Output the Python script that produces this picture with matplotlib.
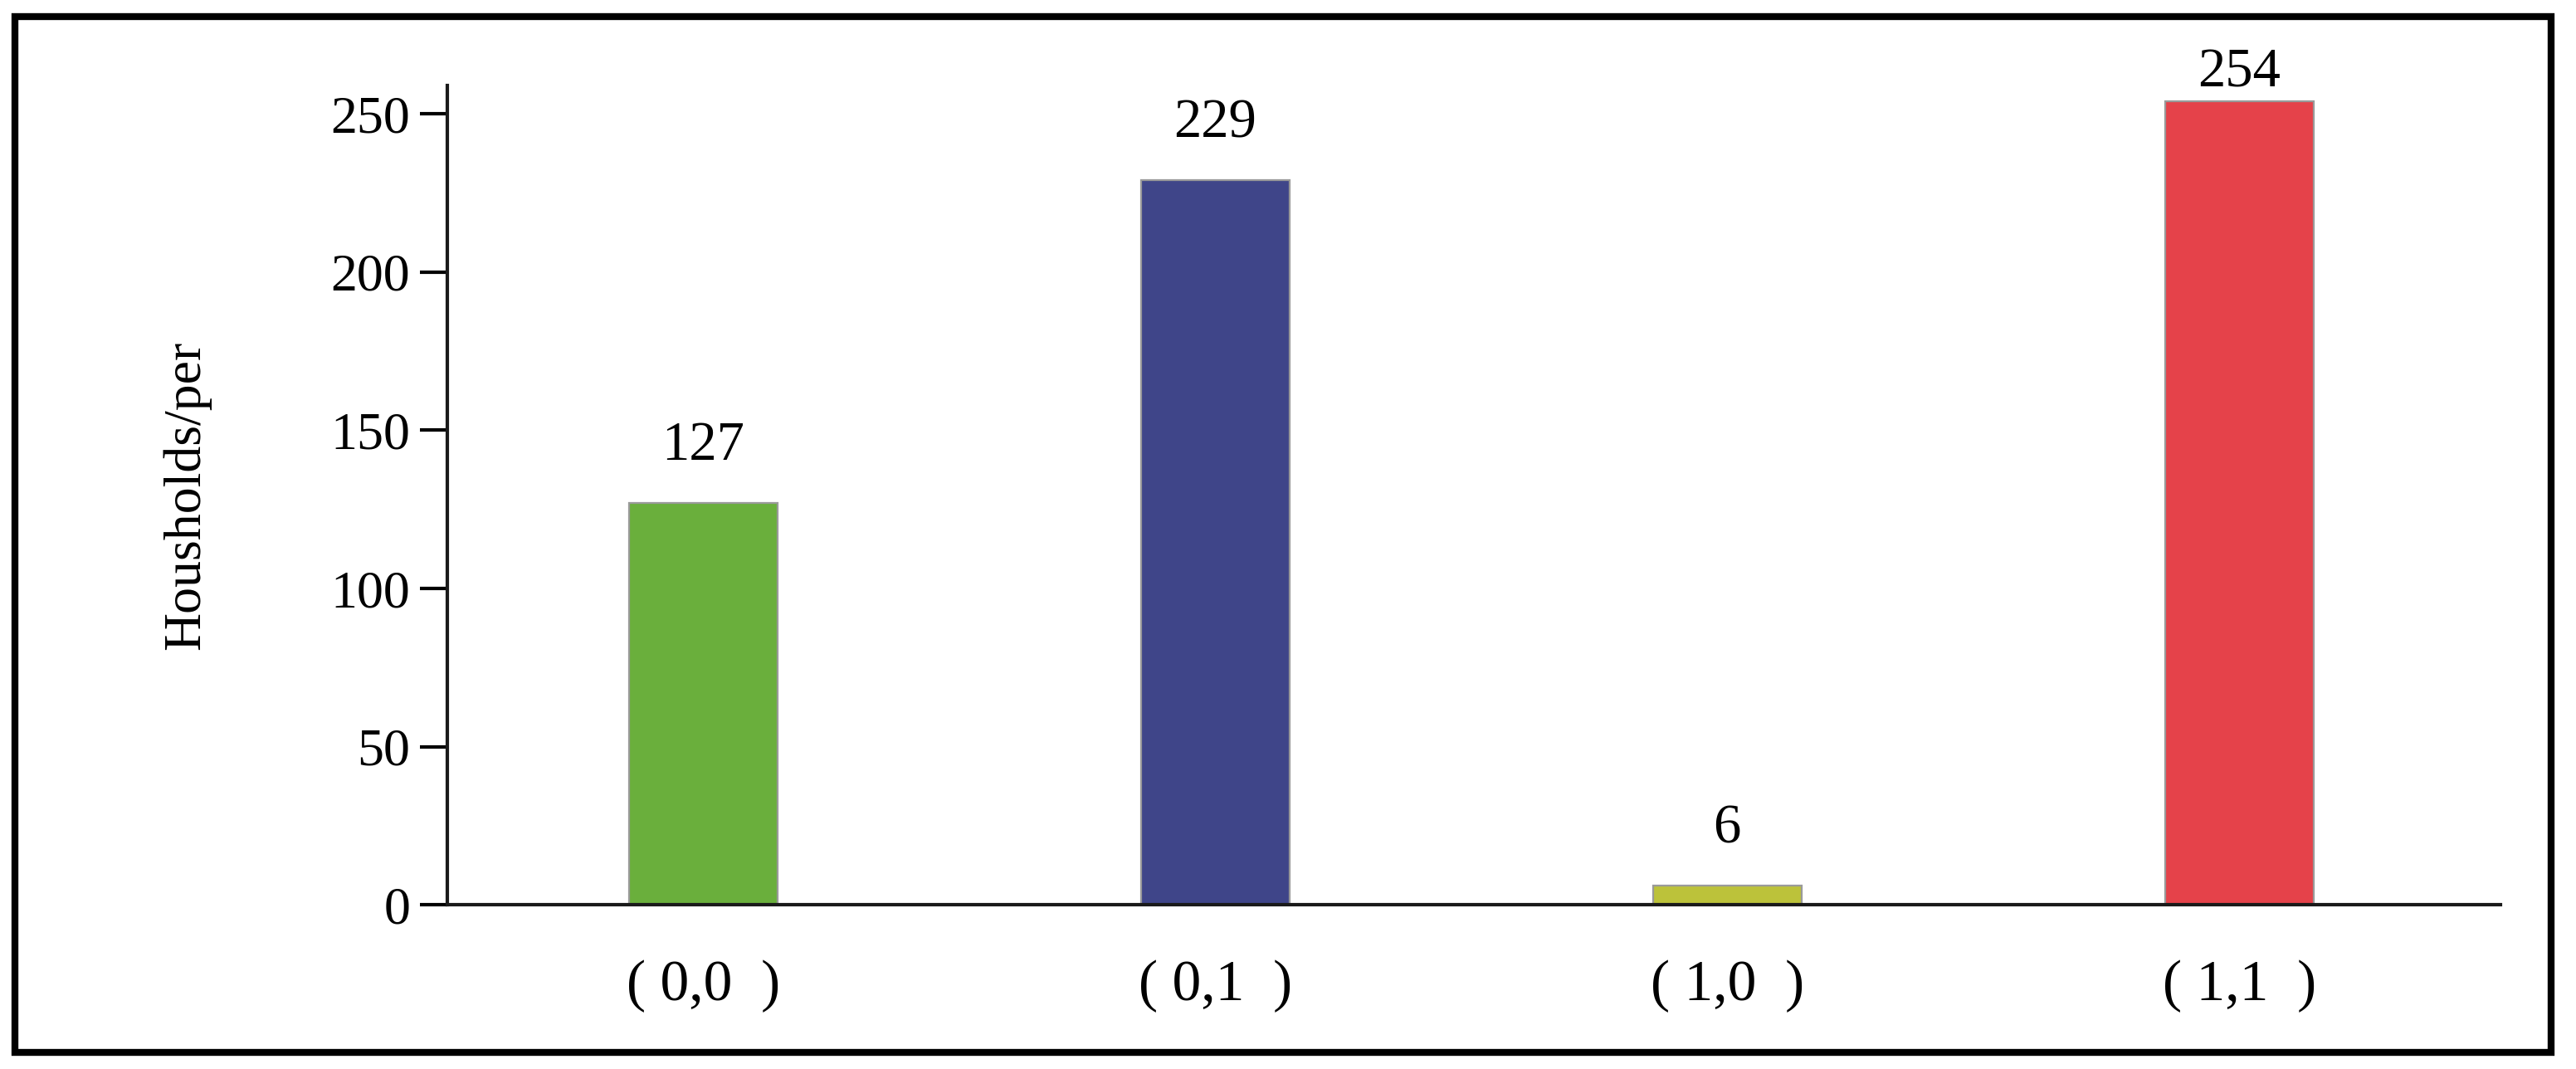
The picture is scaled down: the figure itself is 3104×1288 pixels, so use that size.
import matplotlib
matplotlib.use('Agg')
import matplotlib.pyplot as plt
from matplotlib.patches import Rectangle
import numpy as np

categories = ['( 0,0  )', '( 0,1  )', '( 1,0  )', '( 1,1  )']
households = [127, 229, 6, 254]
bar_colors = ['#6aaf3c', '#3f4589', '#bcc23a', '#e5424a']

plt.rcParams['font.family'] = ['Liberation Serif', 'DejaVu Serif']

fig = plt.figure(figsize=(15.52, 6.44), dpi=200)
fig.patch.set_facecolor('white')
ax = fig.add_axes([0.1735, 0.1536, 0.7972, 0.7664])

x = np.arange(len(categories))
ax.bar(x, households, width=0.29, color=bar_colors,
       edgecolor='#9a9a9a', linewidth=0.8, zorder=2)

# value labels; the tallest one is squeezed under the frame
for xi, v in zip(x, households):
    ax.text(xi, min(v + 18, 263), str(v), ha='center', va='center',
            fontsize=24, clip_on=False)

ax.set_xlim(-0.5, 3.51)
ax.set_ylim(0, 259)
ax.set_yticks([0, 50, 100, 150, 200, 250])
ax.set_xticks(x)
ax.set_xticklabels(categories, fontsize=25)
ax.tick_params(axis='x', length=0, pad=24)
ax.tick_params(axis='y', direction='out', length=12, width=1.5,
               labelsize=23, pad=4)

for side in ['top', 'right']:
    ax.spines[side].set_visible(False)
for side in ['left', 'bottom']:
    ax.spines[side].set_linewidth(1.5)
    ax.spines[side].set_color('#1a1a1a')

ax.set_ylabel('Housholds/per', fontsize=23)
ax.yaxis.set_label_coords(-0.115, 0.5)

# outer frame round the whole picture
frame = Rectangle((0.0058, 0.0155), 0.9845, 0.969, transform=fig.transFigure,
                  fill=False, edgecolor='black', linewidth=3, zorder=10)
fig.patches.append(frame)

fig.savefig('out.png', dpi=200, facecolor='white')
